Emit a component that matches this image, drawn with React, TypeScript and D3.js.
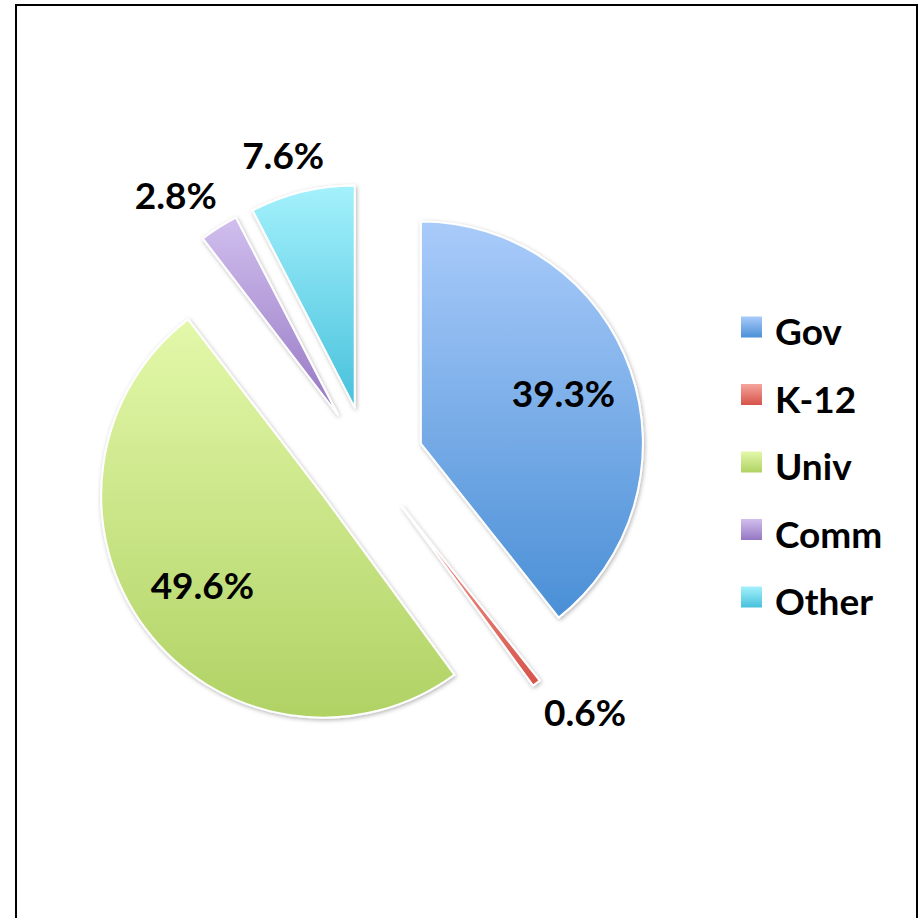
import React from "react";
import * as d3 from "d3";

const categories = ["Gov", "K-12", "Univ", "Comm", "Other"];
const values = [39.3, 0.6, 49.6, 2.8, 7.6];
const labels = ["39.3%", "0.6%", "49.6%", "2.8%", "7.6%"];
const topColors = ["#a9cbfa", "#f5a49c", "#e3f8aa", "#d1bfee", "#a4f1fc"];
const bottomColors = ["#4a8fd6", "#d6534a", "#b0d264", "#9577c2", "#47c1dc"];

const W = 920;
const H = 918;
const cx = 368;
const cy = 462;
const R = 222;
const explode = 56;
const FONT = "Lato, 'Open Sans', sans-serif";
const FS = 37;

export default function App() {
  const pie = d3.pie<number>().sort(null).startAngle(0).endAngle(2 * Math.PI);
  const arcs = pie(values);
  const arcGen = d3.arc<d3.PieArcDatum<number>>().innerRadius(0).outerRadius(R);

  return (
    <svg
      width={W}
      height={H}
      style={{ position: "absolute", left: 0, top: 0, background: "#fff" }}
    >
      <defs>
        {categories.map((c, i) => (
          <linearGradient key={c} id={`g${i}`} x1="0" y1="0" x2="0" y2="1">
            <stop offset="0%" stopColor={topColors[i]} />
            <stop offset="100%" stopColor={bottomColors[i]} />
          </linearGradient>
        ))}
        <filter id="shadow" x="-20%" y="-20%" width="140%" height="140%">
          <feDropShadow dx="1" dy="1.5" stdDeviation="2" floodColor="#000" floodOpacity="0.3" />
        </filter>
      </defs>
      <rect x={16} y={5} width={901} height={H + 20} fill="none" stroke="#000" strokeWidth={2} />
      {arcs.map((a, i) => {
        const mid = (a.startAngle + a.endAngle) / 2;
        const ox = cx + explode * Math.sin(mid);
        const oy = cy - explode * Math.cos(mid);
        return (
          <g key={categories[i]} transform={`translate(${ox},${oy})`}>
            <path
              d={arcGen(a) || ""}
              fill={`url(#g${i})`}
              stroke="#fff"
              strokeWidth={2}
              strokeLinejoin="round"
              filter="url(#shadow)"
            />
          </g>
        );
      })}
      {arcs.map((a, i) => {
        const mid = (a.startAngle + a.endAngle) / 2;
        const ox = cx + explode * Math.sin(mid);
        const oy = cy - explode * Math.cos(mid);
        const inside = values[i] >= 10;
        const lr = inside ? R * 0.68 : R * 1.17;
        const halfW = FS * 1.15;
        const lx = ox + lr * Math.sin(mid) + (inside ? 0 : halfW * Math.sin(mid));
        const ly = oy - lr * Math.cos(mid);
        return (
          <text
            key={`l${i}`}
            x={lx}
            y={ly}
            textAnchor="middle"
            dy="0.36em"
            fontFamily={FONT}
            fontWeight={700}
            fontSize={FS}
            fill="#000"
          >
            {labels[i]}
          </text>
        );
      })}
      {categories.map((c, i) => {
        const y = 327 + i * 67.5;
        return (
          <g key={`lg${i}`}>
            <rect x={741} y={y - 10.5} width={21} height={21} fill={`url(#g${i})`} />
            <text
              x={775}
              y={y + 18}
              fontFamily={FONT}
              fontWeight={700}
              fontSize={FS}
              fill="#000"
            >
              {c}
            </text>
          </g>
        );
      })}
    </svg>
  );
}
